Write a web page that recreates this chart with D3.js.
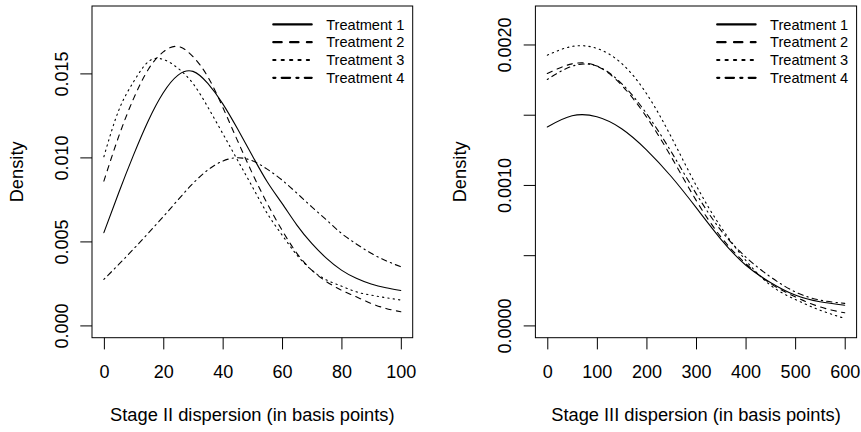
<!DOCTYPE html>
<html>
<head>
<meta charset="utf-8">
<script src="https://cdn.jsdelivr.net/npm/d3@7/dist/d3.min.js"></script>
<style>
  html, body { margin: 0; padding: 0; background: #fff; }
  svg { display: block; font-family: "Liberation Sans", Arial, sans-serif; }
</style>
</head>
<body>
<svg id="chart" width="861" height="432"></svg>
<script>
// ---- Stage II dispersion densities (x in basis points) ----
const stage2X = [0,5,10,15,20,25,30,35,40,45,50,55,60,65,70,75,80,85,90,95,100];
const stage2T1 = [0.00552,0.00790,0.01015,0.01220,0.01385,0.01490,0.01512,0.0144,0.0132,0.0117,0.0101,0.00855,0.00726,0.00597,0.00488,0.00399,0.00329,0.0028,0.00246,0.00224,0.00208];
const stage2T2 = [0.00859,0.01125,0.0135,0.01525,0.01628,0.0166,0.0160,0.0148,0.0130,0.0110,0.00905,0.00726,0.00567,0.00429,0.00329,0.0026,0.0021,0.0017,0.00131,0.00101,0.00081];
const stage2T3 = [0.01004,0.0128,0.0145,0.0157,0.01583,0.0153,0.0144,0.0130,0.01143,0.00984,0.00825,0.00667,0.00538,0.00419,0.00329,0.0027,0.00234,0.0020,0.0018,0.00165,0.00151];
const stage2T4 = [0.00274,0.00363,0.00455,0.00550,0.00647,0.00748,0.00845,0.00925,0.00978,0.00998,0.00980,0.00930,0.00865,0.00787,0.00706,0.00627,0.00548,0.00485,0.00429,0.00385,0.00349];

// ---- Stage III dispersion densities ----
const stage3X = [0,50,100,150,200,250,300,350,400,450,500,550,600];
const stage3T1 = [0.001413,0.001492,0.001485,0.001400,0.001250,0.001060,0.000840,0.000615,0.000430,0.000306,0.000216,0.000168,0.000144];
const stage3T2 = [0.001793,0.001862,0.001846,0.001710,0.001485,0.001200,0.000892,0.000631,0.000441,0.000299,0.000204,0.000132,0.0000897];
const stage3T3 = [0.001924,0.001986,0.001972,0.001865,0.001651,0.001342,0.000999,0.000702,0.000465,0.000287,0.000185,0.000109,0.0000498];
const stage3T4 = [0.001751,0.001845,0.001846,0.001722,0.001509,0.001236,0.000940,0.000678,0.000488,0.000346,0.000239,0.000180,0.000157];

const treatments = ["Treatment 1","Treatment 2","Treatment 3","Treatment 4"];

// Axis ticks
const stage2XTicks = [0,20,40,60,80,100];
const stage2YTicks = [0,0.005,0.010,0.015];
const stage2YLabels = ["0.000","0.005","0.010","0.015"];
const stage3XTicks = [0,100,200,300,400,500,600];
const stage3YTicks = [0,0.0005,0.0010,0.0015,0.0020];
const stage3YLabels = ["0.0000","","0.0010","","0.0020"];

const xTitles = ["Stage II dispersion (in basis points)","Stage III dispersion (in basis points)"];

// line types: solid, dashed, dotted, dot-dash (scaled with round caps)
function dashFor(i, u) {
  return [null, [4*u,4*u], [u,3*u], [u,3*u,4*u,3*u]][i];
}

const svg = d3.select("#chart");

const panels = [
  { xs: stage2X, series: [stage2T1,stage2T2,stage2T3,stage2T4], xlim:[0,100], ylim:[0,0.01828],
    left: 92, right: 412.7, xTicks: stage2XTicks, yTicks: stage2YTicks, yLabels: stage2YLabels, title: xTitles[0] },
  { xs: stage3X, series: [stage3T1,stage3T2,stage3T3,stage3T4], xlim:[0,600], ylim:[0,0.0021864],
    left: 535.4, right: 856.6, xTicks: stage3XTicks, yTicks: stage3YTicks, yLabels: stage3YLabels, title: xTitles[1] }
];

const plotTop = 6, plotBottom = 337.7;

function pad(lim) {
  const d = (lim[1]-lim[0])*0.04;
  return [lim[0]-d, lim[1]+d];
}

panels.forEach(p => {
  const x = d3.scaleLinear().domain(pad(p.xlim)).range([p.left, p.right]);
  const y = d3.scaleLinear().domain(pad(p.ylim)).range([plotBottom, plotTop]);
  const g = svg.append("g");

  // curves
  const line = d3.line().curve(d3.curveNatural);
  p.series.forEach((vals, i) => {
    const pts = p.xs.map((xv, k) => [x(xv), y(vals[k])]);
    g.append("path")
      .attr("d", line(pts))
      .attr("fill", "none")
      .attr("stroke", "#000")
      .attr("stroke-width", 1.1)
      .attr("stroke-linecap", "round")
      .attr("stroke-dasharray", dashFor(i, 1.35));
  });

  // box
  g.append("rect")
    .attr("x", p.left).attr("y", plotTop)
    .attr("width", p.right - p.left).attr("height", plotBottom - plotTop)
    .attr("fill", "none").attr("stroke", "#000").attr("stroke-width", 1);

  // x axis
  const xa = g.append("g")
    .attr("transform", `translate(0,${plotBottom})`)
    .call(d3.axisBottom(x).tickValues(p.xTicks).tickFormat(d3.format("d")).tickSize(11.7).tickPadding(15.5));
  xa.select(".domain").remove();
  xa.selectAll("line").attr("stroke", "#000");
  xa.selectAll("text").attr("font-size", 18).attr("fill", "#000").attr("font-family", "Liberation Sans, Arial, sans-serif");

  // y axis with rotated labels
  const ya = g.append("g")
    .attr("transform", `translate(${p.left},0)`)
    .call(d3.axisLeft(y).tickValues(p.yTicks).tickFormat((d, i) => p.yLabels[i]).tickSize(11.7));
  ya.select(".domain").remove();
  ya.selectAll("line").attr("stroke", "#000");
  ya.selectAll("text")
    .attr("x", null).attr("dy", null)
    .attr("transform", "translate(-24,0) rotate(-90)")
    .attr("text-anchor", "middle")
    .attr("font-size", 18).attr("fill", "#000")
    .attr("font-family", "Liberation Sans, Arial, sans-serif");

  // axis titles
  g.append("text")
    .attr("x", (p.left + p.right)/2).attr("y", 420.7)
    .attr("text-anchor", "middle").attr("font-size", 18.3)
    .text(p.title);
  g.append("text")
    .attr("transform", `translate(${p.left - 69.5},${(plotTop+plotBottom)/2}) rotate(-90)`)
    .attr("text-anchor", "middle").attr("font-size", 18.3)
    .text("Density");

  // legend
  const lg = g.append("g");
  treatments.forEach((name, i) => {
    const ry = 24.4 + i*17.8;
    lg.append("line")
      .attr("x1", p.right - 139.4).attr("x2", p.right - 101)
      .attr("y1", ry).attr("y2", ry)
      .attr("stroke", "#000").attr("stroke-width", 2.2)
      .attr("stroke-linecap", "round")
      .attr("stroke-dasharray", dashFor(i, 2.1));
    lg.append("text")
      .attr("x", p.right - 86.5).attr("y", ry)
      .attr("dy", "0.36em")
      .attr("font-size", 14.6)
      .text(name);
  });
});
</script>
</body>
</html>
